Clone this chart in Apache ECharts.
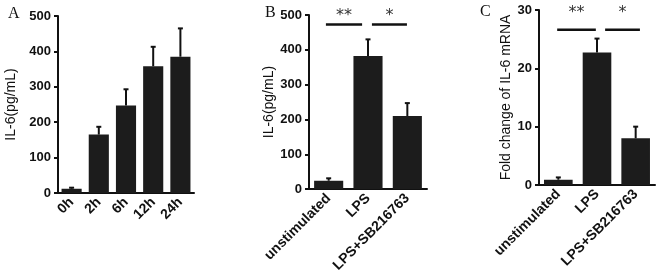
<!DOCTYPE html>
<html>
<head>
<meta charset="utf-8">
<script src="https://cdn.jsdelivr.net/npm/echarts@6/dist/echarts.min.js"></script>
<style>
  html, body { margin: 0; padding: 0; background: #fff; }
  #chart { width: 660px; height: 275px; }
</style>
</head>
<body>
<div id="chart"></div>
<script>
// panel A: time course
var catsA = ["0h", "2h", "6h", "12h", "24h"];
var meanA = [12, 165, 247, 358, 385];
var errA = [3, 22, 46, 55, 80];

// panels B / C: treatments
var catsBC = ["unstimulated", "LPS", "LPS+SB216763"];
var meanB = [24, 382, 210];
var errB = [7, 48, 37];
var meanC = [0.9, 22.7, 8.0];
var errC = [0.4, 2.4, 2.0];

// significance brackets: [from (category units), to, y value]
var sigB = [[-0.07, 0.85, 473], [1.10, 1.99, 473]];
var sigC = [[-0.03, 0.97, 26.6], [1.21, 2.11, 26.6]];
var starsB = ["**", "*"];
var starsC = ["**", "*"];

var sans = "Liberation Sans";
var ink = "#111";

function xAx(idx, cats) {
  return {
    type: "category",
    gridIndex: idx,
    data: cats,
    axisLine: { lineStyle: { color: ink, width: 2 } },
    axisTick: { alignWithLabel: true, length: 4, lineStyle: { color: ink, width: 2 } },
    axisLabel: {
      interval: 0,
      rotate: 45,
      margin: 7,
      color: ink,
      fontFamily: sans,
      fontWeight: "bold",
      fontSize: 14
    }
  };
}

function yAx(idx, max, step, name, gap) {
  return {
    type: "value",
    gridIndex: idx,
    min: 0,
    max: max,
    interval: step,
    name: name,
    nameLocation: "middle",
    nameGap: gap,
    nameTextStyle: { color: ink, fontFamily: sans, fontSize: 14, fontWeight: "normal" },
    axisLine: { show: true, lineStyle: { color: ink, width: 2 } },
    axisTick: { show: true, length: 4, lineStyle: { color: ink, width: 2 } },
    splitLine: { show: false },
    axisLabel: { margin: 7, color: ink, fontFamily: sans, fontWeight: "bold", fontSize: 13 }
  };
}

function barSeries(idx, vals) {
  return {
    type: "bar",
    xAxisIndex: idx,
    yAxisIndex: idx,
    barWidth: "74%",
    itemStyle: { color: "#1c1c1c" },
    data: vals
  };
}

function errSeries(idx, vals, errs) {
  return {
    type: "custom",
    xAxisIndex: idx,
    yAxisIndex: idx,
    z: 5,
    data: vals.map(function (v, i) { return [i, v, errs[i]]; }),
    encode: { x: 0, y: 1 },
    renderItem: function (params, api) {
      var base = api.coord([api.value(0), api.value(1)]);
      var top = api.coord([api.value(0), api.value(1) + api.value(2)]);
      var st = { stroke: ink, lineWidth: 2 };
      return {
        type: "group",
        children: [
          { type: "line", shape: { x1: base[0], y1: base[1], x2: top[0], y2: top[1] }, style: st },
          { type: "line", shape: { x1: top[0] - 2.5, y1: top[1], x2: top[0] + 2.5, y2: top[1] }, style: st }
        ]
      };
    }
  };
}

function sigSeries(idx, sig, stars, starLift) {
  return {
    type: "custom",
    xAxisIndex: idx,
    yAxisIndex: idx,
    z: 6,
    data: sig.map(function (s) { return [0, s[2]]; }),
    encode: { x: 0, y: 1 },
    renderItem: function (params, api) {
      var s = sig[params.dataIndex];
      var c0 = api.coord([0, s[2]]);
      var bw = api.size([1, 0])[0];
      var x1 = c0[0] + s[0] * bw;
      var x2 = c0[0] + s[1] * bw;
      return {
        type: "group",
        children: [
          { type: "line", shape: { x1: x1, y1: c0[1], x2: x2, y2: c0[1] }, style: { stroke: ink, lineWidth: 2.5 } },
          {
            type: "text",
            style: {
              x: (x1 + x2) / 2,
              y: c0[1] - starLift,
              text: stars[params.dataIndex],
              fill: "#333",
              font: "16px DejaVu Sans",
              align: "center",
              verticalAlign: "middle"
            }
          }
        ]
      };
    }
  };
}

var myChart = echarts.init(document.getElementById("chart"));
myChart.setOption({
  animation: false,
  textStyle: { fontFamily: sans },
  title: [
    { text: "A", left: 3, top: 1, textStyle: { fontFamily: "Liberation Serif", fontWeight: "normal", fontSize: 16, color: ink } },
    { text: "B", left: 260, top: 0, textStyle: { fontFamily: "Liberation Serif", fontWeight: "normal", fontSize: 16, color: ink } },
    { text: "C", left: 475, top: -1, textStyle: { fontFamily: "Liberation Serif", fontWeight: "normal", fontSize: 16, color: ink } }
  ],
  grid: [
    { left: 58, top: 16, width: 136, height: 177 },
    { left: 309, top: 15, width: 118, height: 175 },
    { left: 539, top: 10, width: 116, height: 175 }
  ],
  xAxis: [xAx(0, catsA), xAx(1, catsBC), xAx(2, catsBC)],
  yAxis: [
    yAx(0, 500, 100, "IL-6(pg/mL)", 40),
    yAx(1, 500, 100, "IL-6(pg/mL)", 33),
    yAx(2, 30, 10, "Fold change of IL-6 mRNA", 26)
  ],
  series: [
    barSeries(0, meanA),
    errSeries(0, meanA, errA),
    barSeries(1, meanB),
    errSeries(1, meanB, errB),
    sigSeries(1, sigB, starsB, 9),
    barSeries(2, meanC),
    errSeries(2, meanC, errC),
    sigSeries(2, sigC, starsC, 17)
  ]
});
</script>
</body>
</html>
